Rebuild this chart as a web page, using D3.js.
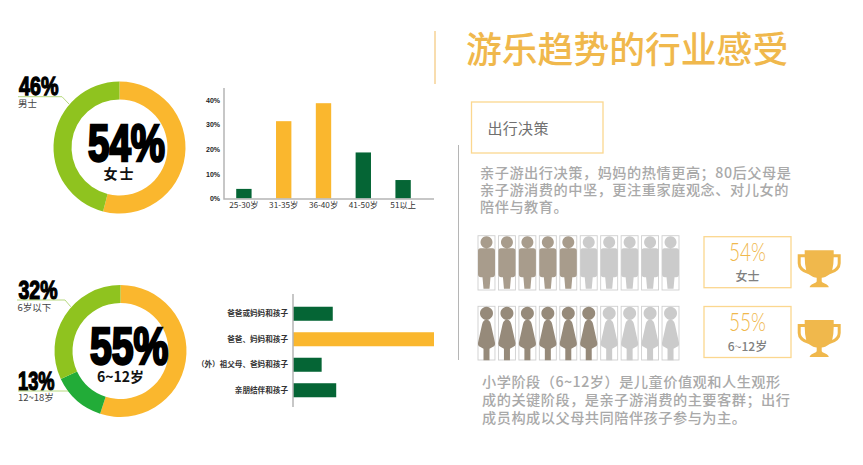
<!DOCTYPE html>
<html lang="zh">
<head>
<meta charset="utf-8">
<title>游乐趋势的行业感受</title>
<script src="https://cdn.jsdelivr.net/npm/d3@7"></script>
<style>
html,body{margin:0;padding:0;background:#fff;}
svg{display:block;}
text{font-family:"Noto Sans CJK SC","Noto Sans",sans-serif;}
.impact{font-family:"Liberation Sans Narrow","Liberation Sans",sans-serif;font-weight:700;fill:#000;stroke:#000;stroke-linejoin:miter;}
</style>
</head>
<body>
<svg id="chart" width="863" height="465"></svg>
<script>
// Donut shares
const genderLabels = ["女士", "男士"];
const genderValues = [54, 46];
const ageLabels = ["6~12岁", "12~18岁", "6岁以下"];
const ageValues = [55, 13, 32];

// Parent age distribution
const parentAges = ["25-30岁", "31-35岁", "36-40岁", "41-50岁", "51以上"];
const parentShares = [3.9, 31.4, 38.7, 18.7, 7.5];
const parentTicks = [0, 10, 20, 30, 40];

// Who travels together
const groups = ["爸爸或妈妈和孩子", "爸爸、妈妈和孩子", "（外）祖父母、爸妈和孩子", "亲朋结伴和孩子"];
const groupShares = [16.1, 57.1, 11.6, 17.5];

// Pictogram rows: highlighted figures out of ten
const tiles = d3.range(10);
const maleFilled = 5;
const femaleFilled = 6;

// Text blocks
const titleText = "游乐趋势的行业感受";
const sectionText = "出行决策";
const introLines = ["亲子游出行决策，妈妈的热情更高；80后父母是", "亲子游消费的中坚，更注重家庭观念、对儿女的", "陪伴与教育。"];
const outroLines = ["小学阶段（6~12岁）是儿童价值观和人生观形", "成的关键阶段，是亲子游消费的主要客群；出行", "成员构成以父母共同陪伴孩子参与为主。"];

const ORANGE = "#fab72e", DARK = "#056535", LIME = "#8fc31f", MID = "#22ac38";
const GOLD = "#f0b84c", FRAME = "#fbd78f", GREY = "#a9a9a9";

const svg = d3.select("#chart");

function donut(cx, cy, values, colors) {
  const pie = d3.pie().sort(null).value(d => d)(values);
  const arc = d3.arc().innerRadius(48).outerRadius(66);
  svg.append("g").attr("transform", `translate(${cx},${cy})`)
    .selectAll("path").data(pie).join("path")
    .attr("d", arc).attr("fill", (d, i) => colors[i]);
}
donut(119.5, 147.5, genderValues, [ORANGE, LIME]);
donut(120.5, 351, ageValues, [ORANGE, MID, LIME]);

function bigPercent(value, x, baseline, width, size, stroke) {
  svg.append("text").attr("class", "impact")
    .attr("x", x).attr("y", baseline)
    .attr("font-size", size).attr("stroke-width", stroke)
    .attr("textLength", width).attr("lengthAdjust", "spacingAndGlyphs")
    .text(value + "%");
}
function note(text, x, y, size, weight, fill, anchor, spacing) {
  svg.append("text").attr("x", x).attr("y", y)
    .attr("font-size", size).attr("font-weight", weight || 400)
    .attr("fill", fill || "#333").attr("text-anchor", anchor || "start")
    .attr("dominant-baseline", "central")
    .style("letter-spacing", spacing || null)
    .text(text);
}
function leader(points) {
  svg.append("path").attr("d", d3.line()(points))
    .attr("fill", "none").attr("stroke", "#b7d97f").attr("stroke-width", 1);
}

bigPercent(genderValues[0], 88, 160.5, 77, 51, 2.6);
note(genderLabels[0], 119.5, 173, 14, 700, "#111", "middle", "2px");
bigPercent(genderValues[1], 19, 95.2, 39.5, 26.5, 1.3);
leader([[18, 96.7], [62, 96.7], [69.3, 104.3]]);
note(genderLabels[1], 18, 103, 9.5, 400, "#444");

bigPercent(ageValues[0], 90, 363.5, 78.5, 51, 2.6);
note(ageLabels[0], 120.5, 376, 14, 700, "#111", "middle");
bigPercent(ageValues[2], 18.5, 298.5, 39, 26.5, 1.3);
leader([[17, 300], [65, 300], [70.7, 306.7]]);
note(ageLabels[2], 17.5, 306.5, 9.5, 400, "#444");
bigPercent(ageValues[1], 18, 389.5, 36.5, 26.5, 1.3);
leader([[18, 391], [68, 391]]);
note(ageLabels[1], 18, 397, 9.5, 400, "#444");

// Parent age columns
const ageX = d3.scaleBand().domain(parentAges).range([224, 423]).paddingInner(0.614).paddingOuter(0.307);
const shareY = d3.scaleLinear().domain([0, 40]).range([198.5, 100]);
const columns = svg.append("g");
columns.selectAll("rect").data(parentAges).join("rect")
  .attr("x", d => ageX(d)).attr("width", ageX.bandwidth())
  .attr("y", (d, i) => shareY(parentShares[i]))
  .attr("height", (d, i) => shareY(0) - shareY(parentShares[i]))
  .attr("fill", (d, i) => (i === 1 || i === 2) ? ORANGE : DARK);
columns.append("path").attr("d", "M224 88V199H434").attr("fill", "none").attr("stroke", "#b5b5b5").attr("stroke-width", 1.5);
const yAxis = columns.append("g").attr("transform", "translate(224,0)")
  .call(d3.axisLeft(shareY).tickValues(parentTicks).tickFormat(d => d + "%").tickSize(0).tickPadding(4));
yAxis.select(".domain").remove();
yAxis.selectAll("text").attr("font-size", 7).attr("font-weight", 700).attr("fill", "#222").style("font-family", "'Liberation Sans',sans-serif");
const xAxis = columns.append("g").attr("transform", "translate(0,199)")
  .call(d3.axisBottom(ageX).tickSize(0).tickPadding(3));
xAxis.select(".domain").remove();
xAxis.selectAll("text").attr("font-size", 8.2).attr("fill", "#333");

// Companion bars
const groupY = d3.scaleBand().domain(groups).range([301, 403]).paddingInner(0.45).paddingOuter(0.225);
const groupX = d3.scaleLinear().domain([0, 57.1]).range([293, 434]);
const bars = svg.append("g");
bars.selectAll("rect").data(groups).join("rect")
  .attr("x", groupX(0)).attr("y", d => groupY(d))
  .attr("height", groupY.bandwidth())
  .attr("width", (d, i) => groupX(groupShares[i]) - groupX(0))
  .attr("fill", (d, i) => i === 1 ? ORANGE : DARK);
bars.append("line").attr("x1", 293).attr("x2", 293).attr("y1", 294).attr("y2", 407)
  .attr("stroke", "#b5b5b5").attr("stroke-width", 1.5);
const groupAxis = bars.append("g").attr("transform", "translate(293,0)")
  .call(d3.axisLeft(groupY).tickSize(0).tickPadding(5));
groupAxis.select(".domain").remove();
groupAxis.selectAll("text").attr("font-size", 7.6).attr("font-weight", 700).attr("fill", "#333");

// Heading and rules
svg.append("line").attr("x1", 435).attr("x2", 435).attr("y1", 31).attr("y2", 84).attr("stroke", "#f3c67a").attr("stroke-width", 1.2);
svg.append("line").attr("x1", 458.5).attr("x2", 458.5).attr("y1", 145).attr("y2", 360).attr("stroke", "#b5b5b5").attr("stroke-width", 1);
svg.append("text").attr("x", 466).attr("y", 63).attr("font-size", 35.8).attr("font-weight", 500).attr("fill", GOLD).text(titleText);
svg.append("rect").attr("x", 471.5).attr("y", 102).attr("width", 131.5).attr("height", 51)
  .attr("fill", "none").attr("stroke", FRAME).attr("stroke-width", 1.3);
note(sectionText, 487.5, 127.5, 15, 400, "#707070", "start", "0.3px");

function paragraph(lines, x, ys, spacing) {
  lines.forEach((line, i) => note(line, x, ys[i], 14.2, 500, GREY, "start", spacing));
}
paragraph(introLines, 480, [172, 189, 206], "0.52px");
paragraph(outroLines, 482, [380.5, 399, 417], "0.5px");

// Pictogram figures, defined on a 17 x 54 tile
const manShape = "M8.5 0a6 6 0 1 1-0.01 0ZM2.5 12H14.5Q17 12 17 14.5V38Q17 41 14 41H12.5L11.5 52.5H5.5L4.5 41H3Q0 41 0 38V14.5Q0 12 2.5 12Z";
const womanShape = "M8.5 0a6.5 6.500 0 1 1-0.01 0ZM8.5 13Q12 13 13 18L17 36Q17.5 39 15 40L11.5 42V53.5H5.5V42L2 40Q-0.5 39 0 36L4 18Q5 13 8.5 13Z";
const tileX = d3.scaleBand().domain(tiles).range([478, 679]).paddingInner(0.17).paddingOuter(0);
function pictogramRow(y, shape, filled, fill, tileH) {
  const row = svg.append("g").attr("transform", `translate(0,${y})`);
  const tile = row.selectAll("g").data(tiles).join("g")
    .attr("transform", d => `translate(${tileX(d)},0)`);
  tile.append("rect").attr("width", tileX.bandwidth()).attr("height", tileH)
    .attr("fill", "none").attr("stroke", "#cfcfcf").attr("stroke-width", 0.9);
  tile.append("path").attr("d", shape)
    .attr("transform", "translate(0,0.5)")
    .attr("fill", d => d < filled ? fill : "#cbcbcb");
}
pictogramRow(235.7, manShape, maleFilled, "#a89c8c", 54.3);
pictogramRow(306.3, womanShape, femaleFilled, "#968a7a", 53.7);

// Score cards with trophies
const trophy = "M7 0H36V4H43V13Q43 21 32 24Q27 27.500 24 27.500V31Q24 32 27.500 33.500Q31 35 31 37H12Q12 35 15.500 33.500Q19 32 19 31V27.500Q16 27.500 11 24Q0 21 0 13V4H7ZM3 7V13Q3 17 8.500 20Q7 14 7 7ZM36 7Q36 14 34.500 20Q40 17 40 13V7Z";
function card(y, value, label) {
  svg.append("rect").attr("x", 704).attr("y", y).attr("width", 87).attr("height", 51)
    .attr("fill", "none").attr("stroke", FRAME).attr("stroke-width", 1.3);
  svg.append("text").attr("x", 729).attr("y", y + 24.3)
    .attr("font-size", 24.5).attr("font-weight", 300).attr("fill", GOLD)
    .attr("textLength", 37).attr("lengthAdjust", "spacingAndGlyphs")
    .style("font-family", "Lato,'Open Sans',sans-serif").text(value + "%");
  note(label, 747.5, y + 39, 12, 500, "#808080", "middle");
  svg.append("path").attr("d", trophy).attr("fill-rule", "evenodd").attr("fill", GOLD)
    .attr("transform", `translate(797.700,${y + 13.5})`);
}
card(236.7, genderValues[0], genderLabels[0]);
card(306.5, ageValues[0], ageLabels[0]);
</script>
</body>
</html>
